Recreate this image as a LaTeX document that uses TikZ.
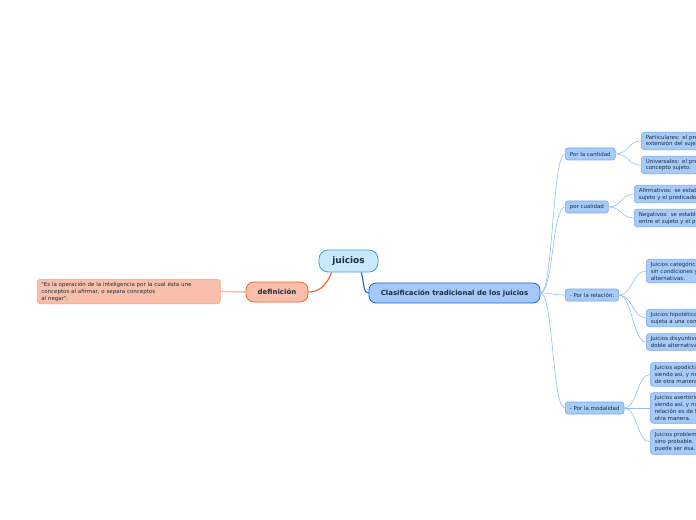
\documentclass[tikz,border=0pt]{standalone}
\usepackage{fontspec}
\newfontfamily\dv{DejaVu Sans}
\definecolor{txt}{HTML}{1B2E3C}
\definecolor{rootfill}{HTML}{C7E9FB}
\definecolor{rootdraw}{HTML}{4A9AD8}
\definecolor{deffill}{HTML}{F9BFAA}
\definecolor{defdraw}{HTML}{F0602E}
\definecolor{quotedraw}{HTML}{F5A584}
\definecolor{clsfill}{HTML}{A3C8F9}
\definecolor{clsdraw}{HTML}{2062D2}
\definecolor{subfill}{HTML}{A7CBF9}
\definecolor{subdraw}{HTML}{78A8EE}
\definecolor{subline}{HTML}{93BDF0}
\tikzset{
  small/.style={font=\dv\fontsize{5.5}{7}\selectfont, text=txt},
  rootbox/.style={draw=rootdraw, fill=rootfill, line width=0.8bp, rounded corners=9bp,
    minimum width=59bp, minimum height=22bp, inner sep=0pt,
    font=\dv\bfseries\fontsize{9}{11}\selectfont, text=txt},
  defbox/.style={draw=defdraw, fill=deffill, line width=0.8bp, rounded corners=8bp,
    minimum width=62bp, minimum height=20bp, inner sep=0pt,
    font=\dv\bfseries\fontsize{7}{9}\selectfont, text=txt},
  quotebox/.style={small, draw=quotedraw, fill=deffill, line width=0.7bp, rounded corners=3bp,
    text width=175bp, inner xsep=4bp, inner ysep=2.5bp, align=left, anchor=west},
  clsbox/.style={draw=clsdraw, fill=clsfill, line width=0.8bp, rounded corners=7bp,
    minimum width=171bp, minimum height=20bp, inner sep=0pt,
    font=\dv\bfseries\fontsize{7}{9}\selectfont, text=txt},
  subbox/.style={small, draw=subdraw, fill=subfill, line width=0.6bp, rounded corners=2.5bp,
    minimum height=12bp, inner xsep=4.5bp, inner ysep=1bp, anchor=west},
  leafbox/.style={small, draw=subdraw, fill=subfill, line width=0.6bp, rounded corners=3bp,
    text width=160bp, inner xsep=4.5bp, inner ysep=2.6bp, align=left, anchor=west},
  conn/.style={draw=subline, line width=0.6bp},
}
\begin{document}
\begin{tikzpicture}[x=1bp,y=-1bp]
\useasboundingbox (0,0) rectangle (696,520);
\clip (0,0) rectangle (696,520);

% main nodes
\node[rootbox] (juicios) at (348.5,261) {juicios};
\node[defbox] (def) at (277,292) {definición};
\node[quotebox] (quote) at (37,291.5) {"Es la operación de la inteligencia por la cual ésta une\\conceptos al afirmar, o separa conceptos\\al negar".};
\node[clsbox] (cls) at (454.5,293) {Clasificación tradicional de los juicios};

% children
\node[subbox] (cant) at (565,154) {Por la cantidad};
\node[subbox] (cual) at (565,207) {por cualidad};
\node[subbox] (rel) at (565,295) {- Por la relación:};
\node[subbox] (mod) at (565,408) {- Por la modalidad};

% leaves
\node[leafbox] (part) at (641,141) {Particulares: el predicado afecta a una parte de la\\extensión del sujeto.};
\node[leafbox] (univ) at (641,165) {Universales: el predicado afecta a todo el\\concepto sujeto.};
\node[leafbox] (afir) at (634,194) {Afirmativos: se establece una relación entre el\\sujeto y el predicado.};
\node[leafbox] (nega) at (634,218) {Negativos: se establece una separación\\entre el sujeto y el predicado.};
\node[leafbox] (cate) at (646,271) {Juicios categóricos: la relación se afirma\\sin condiciones y sin\\alternativas.};
\node[leafbox] (hipo) at (646,318) {Juicios hipotéticos: la relación está\\sujeta a una condición.};
\node[leafbox] (disy) at (646,342) {Juicios disyuntivos: se presenta una\\doble alternativa.};
\node[leafbox] (apod) at (650,374.5) {Juicios apodícticos: es necesariamente\\siendo así, y no puede ser\\de otra manera.};
\node[leafbox] (aser) at (650,408) {Juicios asertóricos: es de hecho\\siendo así, y no necesariamente; la\\relación es de hecho, pero podría ser de\\otra manera.};
\node[leafbox] (prob) at (650,442) {Juicios problemáticos: no es seguro\\sino probable. Puede ser así o\\puede ser ésa.};

% connectors
\draw[draw=defdraw, line width=1.1bp] ([xshift=13bp]juicios.south west) .. controls +(-6,16) and +(8,0) .. (def.east);
\draw[draw=clsdraw, line width=1.1bp] ([xshift=-17bp]juicios.south east) .. controls +(3,14) and +(-5,0) .. (cls.west);
\draw[draw=deffill, line width=1.6bp] (def.west) -- (quote.east);

\foreach \c in {cant,cual,rel,mod}
  \draw[conn] (cls.east) .. controls +(13,0) and +(-13,0) .. (\c.west);
\foreach \l in {part,univ}
  \draw[conn] (cant.east) .. controls +(13,0) and +(-13,0) .. (\l.west);
\foreach \l in {afir,nega}
  \draw[conn] (cual.east) .. controls +(13,0) and +(-13,0) .. (\l.west);
\foreach \l in {cate,hipo,disy}
  \draw[conn] (rel.east) .. controls +(13,0) and +(-13,0) .. (\l.west);
\foreach \l in {apod,aser,prob}
  \draw[conn] (mod.east) .. controls +(13,0) and +(-13,0) .. (\l.west);
\end{tikzpicture}
\end{document}
